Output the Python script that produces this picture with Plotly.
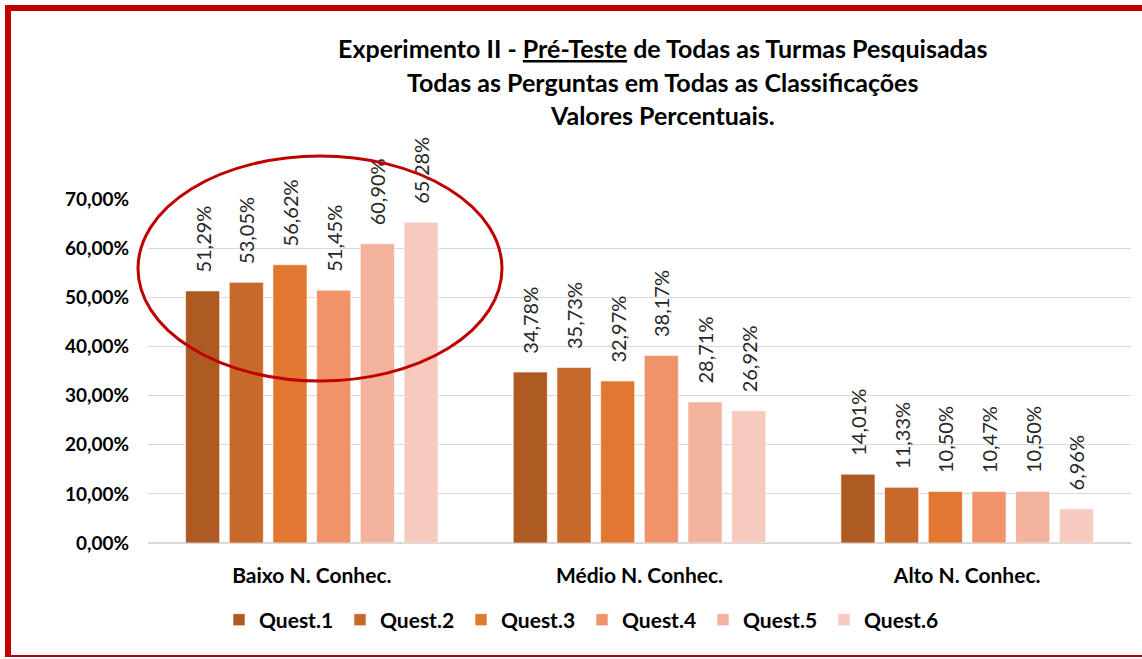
import plotly.graph_objects as go

categories = ["Baixo N. Conhec.", "Médio N. Conhec.", "Alto N. Conhec."]
series_names = ["Quest.1", "Quest.2", "Quest.3", "Quest.4", "Quest.5", "Quest.6"]
quest1 = [0.5129, 0.3478, 0.1401]
quest2 = [0.5305, 0.3573, 0.1133]
quest3 = [0.5662, 0.3297, 0.1050]
quest4 = [0.5145, 0.3817, 0.1047]
quest5 = [0.6090, 0.2871, 0.1050]
quest6 = [0.6528, 0.2692, 0.0696]
tick_values = [0, 0.1, 0.2, 0.3, 0.4, 0.5, 0.6, 0.7]

colors = ["#AE5A23", "#C8692C", "#E17832", "#F0936A", "#F2B29B", "#F6CBBE"]
all_series = [quest1, quest2, quest3, quest4, quest5, quest6]

FONT = "Lato"
W, H = 1142, 659
L, R, T, B = 148, 11, 199, 116
pw, ph = W - L - R, H - T - B


def px(x):
    return (x - L) / pw


def py(y):
    return (H - B - y) / ph


fig = go.Figure()
for name, vals, col in zip(series_names, all_series, colors):
    fig.add_trace(go.Bar(
        name=name, x=categories, y=vals,
        marker=dict(color=col, line=dict(color="rgba(255,255,255,0.6)", width=1)),
        texttemplate="\u00a0\u00a0\u00a0%{y:.2%}",
        textposition="outside", textangle=-90,
        textfont=dict(family=FONT, size=20, color="#262626"),
        constraintext="none", cliponaxis=False,
    ))

title_lines = [
    "Experimento II - <u>Pré-Teste</u> de Todas as Turmas Pesquisadas",
    "Todas as Perguntas em Todas as Classificações",
    "Valores Percentuais.",
]
annotations = []
for line, yy in zip(title_lines, [48, 82, 115]):
    annotations.append(dict(
        text="<b>" + line + "</b>", x=px(662), y=py(yy), xref="paper", yref="paper",
        xanchor="center", yanchor="middle", showarrow=False,
        font=dict(family=FONT, size=25, color="#000000"),
    ))

shapes = [
    # chart border
    dict(type="line", xref="paper", yref="paper", x0=px(5), x1=px(1150), y0=py(8), y1=py(8),
         line=dict(color="#C00000", width=6)),
    dict(type="line", xref="paper", yref="paper", x0=px(8), x1=px(8), y0=py(5), y1=py(657),
         line=dict(color="#C00000", width=6)),
    dict(type="line", xref="paper", yref="paper", x0=px(5), x1=px(1150), y0=py(656), y1=py(656),
         line=dict(color="#C00000", width=2)),
    # highlight ellipse
    dict(type="circle", xref="paper", yref="paper", x0=px(138), x1=px(502), y0=py(381), y1=py(156),
         line=dict(color="#C00000", width=3)),
]

fig.update_layout(
    width=W, height=H,
    margin=dict(l=L, r=R, t=T, b=B, pad=0),
    paper_bgcolor="white", plot_bgcolor="white",
    separators=",.",
    barmode="group", bargap=0.20, bargroupgap=0.22,
    showlegend=True,
    legend=dict(orientation="h", x=px(582), xanchor="center", y=py(620), yanchor="middle",
                font=dict(family=FONT, size=21, color="#000000", weight="bold"),
                entrywidth=76, entrywidthmode="pixels", itemwidth=30,
                bgcolor="rgba(0,0,0,0)"),
    xaxis=dict(showgrid=False, showline=False, ticks="", ticklabelstandoff=18,
               tickfont=dict(family=FONT, size=21, color="#000000", weight="bold")),
    yaxis=dict(range=[0, 0.7], tickvals=tick_values, tickformat=".2%",
               showgrid=True, gridcolor="#D9D9D9", gridwidth=1,
               zeroline=True, zerolinecolor="#D9D9D9", zerolinewidth=2,
               showline=False, ticks="", ticklabelstandoff=18,
               tickfont=dict(family=FONT, size=19, color="#000000", weight="bold")),
    annotations=annotations,
    shapes=shapes,
)

fig.write_html("out.html", config={"displayModeBar": False},
               post_script="document.body.style.margin='0';document.body.style.overflow='hidden';")
